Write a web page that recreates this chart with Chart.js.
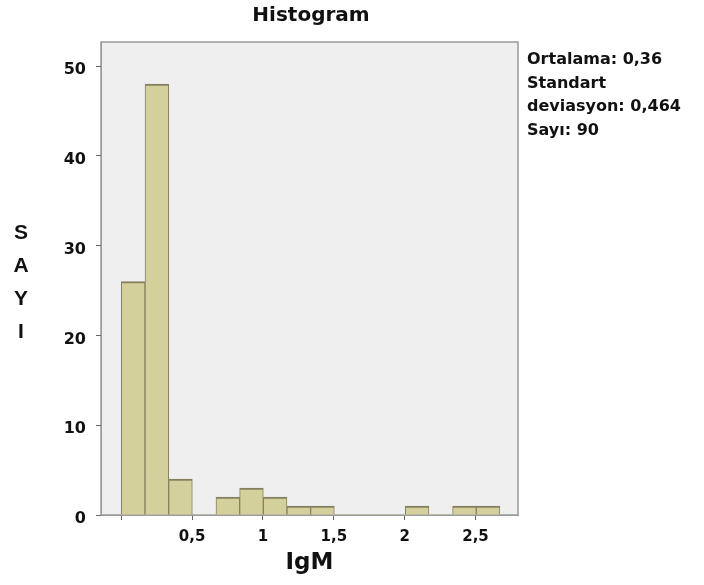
<!DOCTYPE html>
<html>
<head>
<meta charset="utf-8">
<script src="https://cdn.jsdelivr.net/npm/chart.js@4/dist/chart.umd.min.js"></script>
<style>
  body { margin: 0; background: #fff; }
  canvas { display: block; }
</style>
</head>
<body>
<canvas id="histChart" width="704" height="585"></canvas>
<script>
// ===== DATA =====
const binMids = [0.084, 0.251, 0.418, 0.585, 0.752, 0.919, 1.086, 1.253, 1.420, 1.587, 1.754, 1.921, 2.088, 2.255, 2.422, 2.589];
const counts  = [26, 48, 4, 0, 2, 3, 2, 1, 1, 0, 0, 0, 1, 0, 1, 1];
const xTicks = [0, 0.5, 1, 1.5, 2, 2.5];
const yTicks = [0, 10, 20, 30, 40, 50];
const statLines = ["Ortalama: 0,36", "Standart", "deviasyon: 0,464", "Sayı: 90"];
const yTitleLetters = ["S", "A", "Y", "I"];

// ===== Frame + extra text plugin =====
const frameText = {
    id: 'frameText',
    beforeDraw(chart) {
        const { ctx, chartArea: a } = chart;
        ctx.save();
        ctx.fillStyle = "#efefef";
        ctx.fillRect(a.left, a.top, a.right - a.left, a.bottom - a.top);
        ctx.strokeStyle = "#9a9a9a";
        ctx.lineWidth = 1.5;
        ctx.strokeRect(a.left, a.top, a.right - a.left, a.bottom - a.top);
        ctx.restore();
    },
    afterDraw(chart) {
        const { ctx } = chart;
        ctx.save();
        ctx.fillStyle = "#111";
        ctx.textBaseline = "middle";

        ctx.textAlign = "center";
        ctx.font = "bold 20px 'DejaVu Sans'";
        ctx.fillText("Histogram", 311, 16);

        ctx.font = "bold 21px 'Liberation Sans'";
        yTitleLetters.forEach((ch, i) => ctx.fillText(ch, 21, 233 + i * 33));

        ctx.textAlign = "left";
        ctx.font = "bold 16px 'DejaVu Sans'";
        statLines.forEach((t, i) => ctx.fillText(t, 527, 60 + i * 23.5));
        ctx.restore();
    }
};

const fmt = v => String(v).replace('.', ',');

new Chart(document.getElementById("histChart"), {
    type: "bar",
    data: {
        datasets: [{
            data: binMids.map((x, i) => ({ x: x, y: counts[i] })),
            backgroundColor: "#d4d09c",
            borderColor: "#85815e",
            borderWidth: c => (c.raw && c.raw.y > 0) ? { top: 2, left: 1, right: 1, bottom: 0 } : 0,
            borderSkipped: false,
            barPercentage: 1,
            categoryPercentage: 1
        }]
    },
    options: {
        responsive: false,
        animation: false,
        layout: { padding: { left: 60, right: 186, top: 42, bottom: 0 } },
        plugins: {
            legend: { display: false },
            tooltip: { enabled: false }
        },
        scales: {
            x: {
                type: "linear",
                min: -0.143,
                max: 2.80,
                offset: false,
                afterFit(scale) { scale.height = 70; },
                afterBuildTicks(scale) { scale.ticks = xTicks.map(v => ({ value: v })); },
                ticks: {
                    padding: 8,
                    color: "#111",
                    font: { family: "DejaVu Sans", weight: "bold", size: 15 },
                    callback: v => v === 0 ? "" : fmt(v)
                },
                grid: { drawOnChartArea: false, offset: false, tickLength: 5, color: "#666" },
                border: { color: "#9a9a9a" },
                title: {
                    display: true,
                    text: "IgM",
                    color: "#111",
                    padding: { top: 0, bottom: 8 },
                    font: { family: "DejaVu Sans", weight: "bold", size: 23 }
                }
            },
            y: {
                min: 0,
                max: 52.7,
                afterFit(scale) { scale.width = 41; },
                afterBuildTicks(scale) { scale.ticks = yTicks.map(v => ({ value: v })); },
                ticks: {
                    padding: 10,
                    labelOffset: 4,
                    color: "#111",
                    font: { family: "DejaVu Sans", weight: "bold", size: 16 },
                    callback: v => fmt(v)
                },
                grid: { drawOnChartArea: false, tickLength: 5, color: "#666" },
                border: { color: "#9a9a9a" }
            }
        }
    },
    plugins: [frameText]
});
</script>
</body>
</html>
